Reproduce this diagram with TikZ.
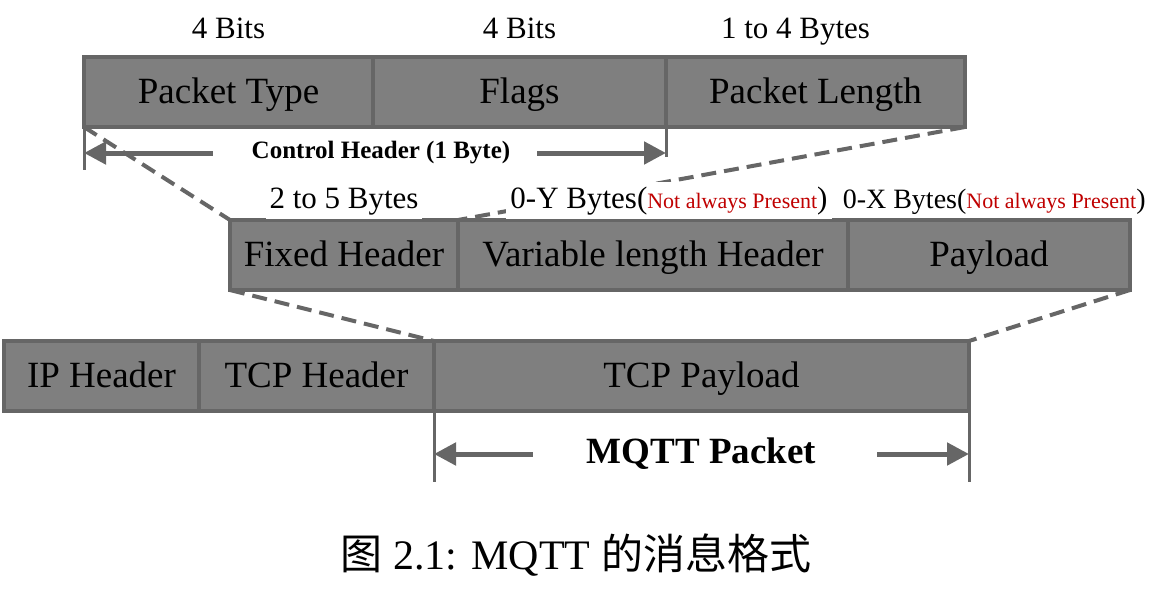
\documentclass[tikz,border=0pt]{standalone}
\usepackage{fontspec}
\setmainfont{Liberation Serif}
\newfontfamily\cjk{Noto Sans CJK SC}
\usetikzlibrary{positioning,arrows.meta}
\definecolor{fieldgray}{HTML}{7F7F7F}
\definecolor{edgegray}{HTML}{666666}
\definecolor{notered}{HTML}{C00000}
\begin{document}
\begin{tikzpicture}[x=0.5pt,y=-0.5pt,
  field/.style={draw=edgegray, fill=fieldgray, line width=2pt, minimum height=35pt, inner sep=0pt, outer sep=0pt, text height=11.5pt, text depth=0pt, font=\fontsize{18.5}{22}\selectfont},
  size/.style={font=\fontsize{15.5}{18}\selectfont, anchor=base, fill=white, inner sep=2pt},
  zoomline/.style={draw=edgegray, line width=2pt, dash pattern=on 7.5pt off 4pt},
  tick/.style={draw=edgegray, line width=1.5pt},
  dimarr/.style={draw=edgegray, line width=2.5pt, -{Triangle[length=11pt,width=11pt]}}]
\useasboundingbox (0,0) rectangle (1153,616);
\node[field, minimum width=144.5pt, anchor=north west] (ptype) at (84,57) {Packet Type};
\node[field, minimum width=146.5pt, right=0pt of ptype] (flags) {Flags};
\node[field, minimum width=149.5pt, right=0pt of flags] (plen) {Packet Length};
\node[field, minimum width=114pt, anchor=north west] (fixed) at (230,220) {Fixed Header};
\node[field, minimum width=195pt, right=0pt of fixed] (varhdr) {Variable length Header};
\node[field, minimum width=141pt, right=0pt of varhdr] (payload) {Payload};
\node[field, minimum width=97.5pt, anchor=north west] (iphdr) at (4,341) {IP Header};
\node[field, minimum width=117.5pt, right=0pt of iphdr] (tcphdr) {TCP Header};
\node[field, minimum width=267.5pt, right=0pt of tcphdr] (tcppay) {TCP Payload};
\draw[zoomline] (ptype.south west) -- (fixed.north west);
\draw[zoomline] (plen.south east) -- (fixed.north east);
\draw[zoomline] (fixed.south west) -- (tcppay.north west);
\draw[zoomline] (payload.south east) -- (tcppay.north east);
\node[size] at ([yshift=9.5pt]ptype.north) {4 Bits};
\node[size] at ([yshift=9.5pt]flags.north) {4 Bits};
\node[size] at ([xshift=-10pt,yshift=9.5pt]plen.north) {1 to 4 Bytes};
\node[size] at ([yshift=6pt]fixed.north) {2 to 5 Bytes};
\node[size] at ([xshift=8pt,yshift=6pt]varhdr.north) {0-Y Bytes(\textcolor{notered}{\fontsize{11}{13}\selectfont Not always Present})};
\node[size, anchor=base east, font=\fontsize{14}{17}\selectfont] at ([xshift=10pt,yshift=6pt]payload.north east) {0-X Bytes(\textcolor{notered}{\fontsize{11}{13}\selectfont Not always Present})};
\node[font=\bfseries\fontsize{12.5}{15}\selectfont] (ctl) at (381,153) {Control Header (1 Byte)};
\draw[tick] (ptype.south west) -- ++(0,43);
\draw[tick] (flags.south east) -- ++(0,30);
\draw[dimarr] ([xshift=-16pt]ctl.west) -- (ctl.center -| ptype.west);
\draw[dimarr] ([xshift=10pt]ctl.east) -- (ctl.center -| flags.east);
\node[font=\bfseries\fontsize{18.5}{22}\selectfont] (mqtt) at ([yshift=-21.5pt]tcppay.south) {MQTT Packet};
\draw[tick] (tcppay.south west) -- ++(0,71);
\draw[tick] (tcppay.south east) -- ++(0,71);
\draw[dimarr] ([xshift=-23.5pt]mqtt.west) -- (mqtt.center -| tcppay.west);
\draw[dimarr] ([xshift=27pt]mqtt.east) -- (mqtt.center -| tcppay.east);
\node[font=\fontsize{21}{25}\selectfont] (caption) at (576,555) {{\cjk 图} 2.1: MQTT {\cjk 的消息格式}};
\end{tikzpicture}
\end{document}
